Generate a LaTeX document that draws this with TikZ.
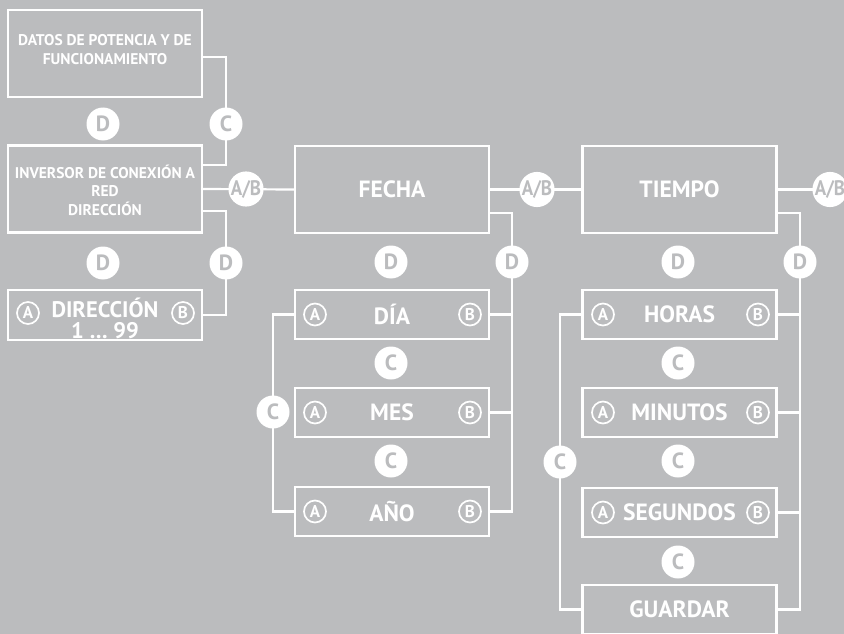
\documentclass[tikz,border=0pt]{standalone}
\usepackage{fontspec}
\setmainfont{PT Sans}
\newfontfamily\lab{PT Sans}
\newfontfamily\labn{PT Sans}[FakeStretch=0.9]
\definecolor{bg}{RGB}{187,188,190}
\begin{document}
\begin{tikzpicture}[x=1pt,y=-1pt,
  box/.style={draw=white, line width=2.4pt, minimum width=194pt, text=white, align=center, inner sep=0pt,
    font=\lab\bfseries\fontsize{23.5}{22}\selectfont},
  tallbox/.style={box, minimum height=87pt},
  shortbox/.style={box, minimum height=49pt},
  bigtext/.style={text=white, align=center, inner sep=0pt, font=\lab\bfseries\fontsize{22.5}{21}\selectfont},
  smalltext/.style={text=white, align=center, inner sep=0pt, font=\lab\bfseries\fontsize{15.5}{18.5}\selectfont},
  bub/.style={circle, fill=white, minimum size=33pt, inner sep=0pt, text=bg,
    font=\lab\bfseries\fontsize{22}{22}\selectfont},
  abbub/.style={bub, font=\labn\bfseries\fontsize{21}{21}\selectfont},
  ring/.style={circle, draw=white, line width=1.7pt, minimum size=22pt, inner sep=0pt, text=white,
    font=\lab\bfseries\fontsize{17}{17}\selectfont},
  wire/.style={draw=white, line width=2.2pt}]
\useasboundingbox (0,0) rectangle (844,634);
\fill[bg] (0,0) rectangle (844,634);

% boxes
\node[tallbox] (datos) at (105,53.5) {};
\node[smalltext] (datost) at (105,49.5) {DATOS DE POTENCIA Y DE\\FUNCIONAMIENTO};
\node[tallbox] (inversor) at (105,189) {};
\node[smalltext] (inversort) at (105,190) {INVERSOR DE CONEXIÓN A\\RED\\DIRECCIÓN};
\node[shortbox, minimum height=50pt] (direccion) at (105,315) {};
\node[bigtext] (direcciont) at (105,318) {DIRECCIÓN\\1 … 99};

\node[tallbox] (fecha) at (392,189.5) {FECHA};
\node[shortbox] (dia) at (392,314.5) {DÍA};
\node[shortbox] (mes) at (392,412.5) {MES};
\node[shortbox] (ano) at (392,511.5) {AÑO};

\node[tallbox] (tiempo) at (679.5,189.5) {TIEMPO};
\node[shortbox] (horas) at (679.5,314.5) {HORAS};
\node[shortbox] (minutos) at (679.5,412.5) {MINUTOS};
\node[shortbox] (segundos) at (679.5,512.5) {SEGUNDOS};
\node[shortbox] (guardar) at (679.5,609.5) {GUARDAR};

% bubble positions
\coordinate (c1) at (226,124);
\coordinate (ab1) at (246,189);
\coordinate (d3) at (226,263);
\coordinate (ab2) at (537,189.5);
\coordinate (d5) at (512,262);
\coordinate (c4) at (273,412);
\coordinate (ab3) at (830,189.5);
\coordinate (d7) at (800,262);
\coordinate (c8) at (560,462);
\coordinate (rim) at (844,189.5);

% wires
\draw[wire] ([yshift=-3.5pt]datos.east) -| (c1) |- ([yshift=24pt]inversor.east);
\draw[wire] (inversor.east) -- (fecha.west);
\draw[wire] ([yshift=-22pt]inversor.east) -| (d3) |- (direccion.east);
\draw[wire] (fecha.east) -- (tiempo.west);
\draw[wire] ([yshift=-23.5pt]fecha.east) -| (d5) |- (ano.east);
\draw[wire] (dia.east) -- (dia.east -| d5);
\draw[wire] (mes.east) -- (mes.east -| d5);
\draw[wire] (dia.west) -| (c4) |- (ano.west);
\draw[wire] (tiempo.east) -- (rim);
\draw[wire] ([yshift=-23.5pt]tiempo.east) -| (d7) |- (guardar.east);
\draw[wire] (horas.east) -- (horas.east -| d7);
\draw[wire] (minutos.east) -- (minutos.east -| d7);
\draw[wire] (segundos.east) -- (segundos.east -| d7);
\draw[wire] (horas.west) -| (c8) |- (guardar.west);

% bubbles
\node[bub] (bc1) at (c1) {C};
\node[bub] (bd1) at (103,124) {D};
\node[bub] (bd2) at (103,263) {D};
\node[bub] (bd3) at (d3) {D};
\node[abbub] (bab1) at (ab1) {A/B};
\node[abbub] (bab2) at (ab2) {A/B};
\node[bub] (bd4) at (391,262) {D};
\node[bub] (bd5) at (d5) {D};
\node[bub] (bc2) at (391,363) {C};
\node[bub] (bc3) at (391,461) {C};
\node[bub] (bc4) at (c4) {C};
\node[abbub] (bab3) at (ab3) {A/B};
\node[bub] (bd6) at (678,262) {D};
\node[bub] (bd7) at (d7) {D};
\node[bub] (bc5) at (678,363) {C};
\node[bub] (bc6) at (678,461) {C};
\node[bub] (bc7) at (678,562) {C};
\node[bub] (bc8) at (c8) {C};

% circled letters
\node[ring] (dirA) at (28,313) {A};
\node[ring] (dirB) at (183,313) {B};
\node[ring] (diaA) at (315,314.5) {A};
\node[ring] (diaB) at (470,314.5) {B};
\node[ring] (mesA) at (315,412.5) {A};
\node[ring] (mesB) at (470,412.5) {B};
\node[ring] (anoA) at (315,511.5) {A};
\node[ring] (anoB) at (470,511.5) {B};
\node[ring] (horA) at (603,314.5) {A};
\node[ring] (horB) at (758,314.5) {B};
\node[ring] (minA) at (603,412.5) {A};
\node[ring] (minB) at (758,412.5) {B};
\node[ring] (segA) at (603,512.5) {A};
\node[ring] (segB) at (758,512.5) {B};
\end{tikzpicture}
\end{document}
